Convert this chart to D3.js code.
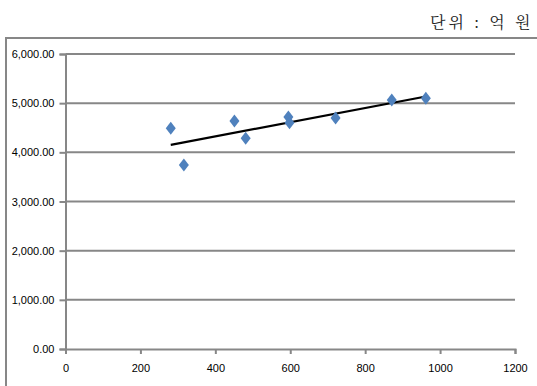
<!DOCTYPE html>
<html>
<head>
<meta charset="utf-8">
<script src="https://cdn.jsdelivr.net/npm/d3@7/dist/d3.min.js"></script>
<style>
  html, body { margin: 0; padding: 0; background: #fff; }
  svg { display: block; }
</style>
</head>
<body>
<svg id="chart" width="537" height="386"></svg>
<script>
// Scatter data: sales vs. amount (unit: 억 원)
const xValues = [281, 316, 451, 481, 595, 598, 721, 871, 962];
const yValues = [4490, 3740, 4635, 4285, 4720, 4600, 4700, 5065, 5100];
const xTicks = [0, 200, 400, 600, 800, 1000, 1200];
const yTicks = [0, 1000, 2000, 3000, 4000, 5000, 6000];
const unitLabel = "단위 : 억 원";

const svg = d3.select("#chart");
const gridColor = "#878787";

// chart frame
svg.append("rect")
  .attr("x", 6).attr("y", 38)
  .attr("width", 560).attr("height", 380)
  .attr("fill", "#fff")
  .attr("stroke", gridColor).attr("stroke-width", 2);

// unit caption
svg.append("text")
  .attr("x", 430).attr("y", 28)
  .attr("font-family", "'Noto Serif CJK KR', 'Noto Sans CJK KR', serif")
  .attr("font-size", 16)
  .attr("letter-spacing", 3)
  .attr("fill", "#222")
  .attr("xml:space", "preserve")
  .text(unitLabel);

const x = d3.scaleLinear().domain([0, 1200]).range([65.5, 515]);
const y = d3.scaleLinear().domain([0, 6000]).range([349, 54]);

const labelFont = "'Liberation Sans Narrow', 'Arial Narrow', 'Liberation Sans', sans-serif";

// horizontal gridlines
svg.append("g")
  .selectAll("line")
  .data(yTicks.filter(d => d > 0))
  .join("line")
  .attr("x1", x(0)).attr("x2", x(1200))
  .attr("y1", d => y(d)).attr("y2", d => y(d))
  .attr("stroke", gridColor).attr("stroke-width", 2);

// y axis
const yAxis = svg.append("g")
  .attr("transform", `translate(${x(0)},0)`)
  .call(d3.axisLeft(y).tickValues(yTicks).tickFormat(d3.format(",.2f")).tickSize(6).tickPadding(5));
yAxis.select(".domain").attr("stroke", gridColor).attr("stroke-width", 2);
yAxis.selectAll(".tick line").attr("stroke", gridColor).attr("stroke-width", 2);
yAxis.selectAll(".tick text")
  .attr("font-family", labelFont).attr("font-size", 11).attr("fill", "#000");

// x axis
const xAxis = svg.append("g")
  .attr("transform", `translate(0,${y(0)})`)
  .call(d3.axisBottom(x).tickValues(xTicks).tickFormat(d3.format("d")).tickSize(5).tickPadding(10));
xAxis.select(".domain").attr("stroke", gridColor).attr("stroke-width", 2);
xAxis.selectAll(".tick line").attr("stroke", gridColor).attr("stroke-width", 2);
xAxis.selectAll(".tick text")
  .attr("font-family", labelFont).attr("font-size", 11).attr("fill", "#000");

// linear trendline (least squares)
const n = xValues.length;
const mx = d3.mean(xValues), my = d3.mean(yValues);
let sxy = 0, sxx = 0;
for (let i = 0; i < n; i++) {
  sxy += (xValues[i] - mx) * (yValues[i] - my);
  sxx += (xValues[i] - mx) ** 2;
}
const slope = sxy / sxx, intercept = my - slope * mx;
const xMin = d3.min(xValues), xMax = d3.max(xValues);
svg.append("line")
  .attr("x1", x(xMin)).attr("y1", y(intercept + slope * xMin))
  .attr("x2", x(xMax)).attr("y2", y(intercept + slope * xMax))
  .attr("stroke", "#000").attr("stroke-width", 2.2);

// diamond markers
const points = xValues.map((v, i) => ({ x: v, y: yValues[i] }));
svg.append("g")
  .selectAll("path")
  .data(points)
  .join("path")
  .attr("transform", d => `translate(${x(d.x)},${y(d.y)})`)
  .attr("d", "M0,-6.5L5,0L0,6.5L-5,0Z")
  .attr("fill", "#4F81BD");
</script>
</body>
</html>
